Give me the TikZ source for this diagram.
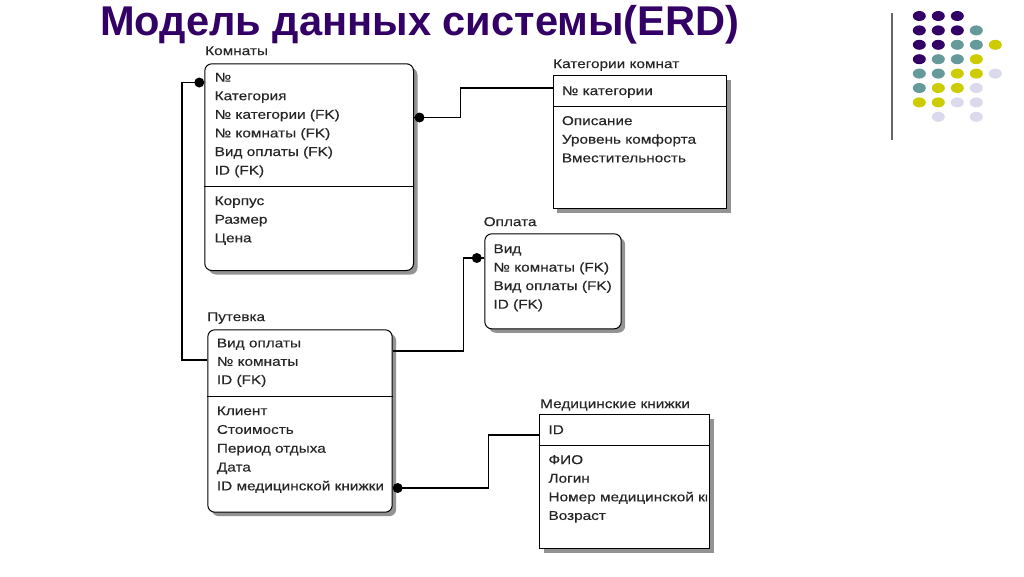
\documentclass[tikz,border=0pt]{standalone}
\usepackage{fontspec}
\setmainfont{Liberation Sans}
\newfontfamily\erdfont[FakeStretch=1.2,FakeBold=0.3]{Liberation Sans}
\newfontfamily\ttlfont{Liberation Sans}
\usetikzlibrary{calc,shadows}
\definecolor{titlecol}{RGB}{51,0,102}
\definecolor{dotP}{RGB}{51,0,102}
\definecolor{dotT}{RGB}{102,153,153}
\definecolor{dotY}{RGB}{204,204,0}
\definecolor{dotL}{RGB}{218,218,236}
\definecolor{dotN}{RGB}{255,255,255}
\newcommand\erdrows[5]{\foreach \t [count=\i] in {#5} {\node[row] (#1\i) at (#2,{#3+(\i-1)*#4}) {\t};}}
\begin{document}
\begin{tikzpicture}[x=1pt,y=-1pt,
  row/.style={anchor=west, inner sep=0pt, text=black!85, font=\erdfont\fontsize{12.8}{14}\selectfont, text height=8.6pt, text depth=2.4pt},
  etitle/.style={row},
  ebox/.style={draw=black, line width=1pt, fill=white, anchor=north west, inner sep=0pt,
    drop shadow={shadow xshift=4pt, shadow yshift=-4pt, fill=gray!85, opacity=1}},
  rbox/.style={ebox, rounded corners=7pt},
  divider/.style={line width=1pt},
  conn/.style={line width=1.1pt},
  pin/.style={circle, fill=black, inner sep=0pt, minimum size=10pt}]
\useasboundingbox (0,0) rectangle (1024,576);

% title
\node[anchor=base west, inner sep=0pt, text=titlecol, font=\ttlfont\bfseries\fontsize{41.6}{45}\selectfont] (title) at (100,35) {Модель данных системы(ERD)};

% decoration
\draw[gray!80!black, line width=1.5pt] (892,13) -- (892,140);
\foreach \rowlist [count=\r] in {{P,P,P},{P,P,P,T},{P,P,T,T,Y},{P,T,T,Y},{T,T,Y,Y,L},{T,Y,Y,L},{Y,Y,L,L},{N,L,N,L}} {
  \foreach \c [count=\k] in \rowlist {
    \fill[dot\c] ({919.3+(\k-1)*19},{16+(\r-1)*14.4}) ellipse [x radius=6.5, y radius=5];
  }
}

% Комнаты
\node[etitle] (komT) at (205,52) {Комнаты};
\node[rbox, minimum width=208.7pt, minimum height=206.7pt] (komn) at (204.3,63.3) {};
\coordinate (kd) at (0,186);
\draw[divider] (komn.west |- kd) -- (komn.east |- kd);
\erdrows{komA}{214.5}{78.5}{18.6}{№,Категория,№ категории (FK),№ комнаты (FK),Вид оплаты (FK),ID (FK)}
\erdrows{komB}{214.5}{202}{18.6}{Корпус,Размер,Цена}

% Категории комнат
\node[etitle] (katT) at (553,65) {Категории комнат};
\node[ebox, minimum width=173.3pt, minimum height=133pt] (kat) at (552.7,75) {};
\coordinate (cd) at (0,106);
\draw[divider] (kat.west |- cd) -- (kat.east |- cd);
\erdrows{katA}{561.7}{92}{18.6}{№ категории}
\erdrows{katB}{561.7}{122}{18.6}{Описание,Уровень комфорта,Вместительность}

% Оплата
\node[etitle] (oplT) at (483.5,223) {Оплата};
\node[rbox, minimum width=136.4pt, minimum height=95pt] (opl) at (484.3,233.3) {};
\erdrows{oplA}{493.3}{250}{18.5}{Вид,№ комнаты (FK),Вид оплаты (FK),ID (FK)}

% Путевка
\node[etitle] (putT) at (207,318) {Путевка};
\node[rbox, minimum width=184.4pt, minimum height=182.4pt] (put) at (207.3,329.3) {};
\coordinate (pd) at (0,396);
\draw[divider] (put.west |- pd) -- (put.east |- pd);
\begin{scope}
\clip (208,330) rectangle (388,511);
\erdrows{putA}{216.7}{344.3}{18.4}{Вид оплаты,№ комнаты,ID (FK)}
\erdrows{putB}{216.7}{412}{18.8}{Клиент,Стоимость,Период отдыха,Дата,ID медицинской книжки}
\end{scope}

% Медицинские книжки
\node[etitle] (medT) at (540,405) {Медицинские книжки};
\node[ebox, minimum width=170pt, minimum height=134pt] (med) at (539.3,414.3) {};
\coordinate (md) at (0,445);
\draw[divider] (med.west |- md) -- (med.east |- md);
\erdrows{medA}{548.3}{431}{18.6}{ID}
\begin{scope}
\clip (540,446) rectangle (707,548);
\erdrows{medB}{548.3}{461}{18.6}{ФИО,Логин,Номер медицинской книжки,Возраст}
\end{scope}

% connectors
\coordinate (a1) at (182,360);
\coordinate (a2) at (182,82.5);
\draw[conn] (put.west |- a1) -- (a1) -- (a2) -- (komn.west |- a2);
\node[pin] (pinA) at ($(komn.west |- a2)+(-5,0)$) {};

\coordinate (b1) at (460.5,117.5);
\coordinate (b2) at (460.5,88);
\draw[conn] (komn.east |- b1) -- (b1) -- (b2) -- (kat.west |- b2);
\node[pin] (pinB) at ($(komn.east |- b1)+(5.5,0)$) {};

\coordinate (c1) at (463.3,351);
\coordinate (c2) at (463.3,258);
\draw[conn] (put.east |- c1) -- (c1) -- (c2) -- (opl.west |- c2);
\node[pin] (pinC) at ($(opl.west |- c2)+(-7.5,0)$) {};

\coordinate (e1) at (488.3,488);
\coordinate (e2) at (488.3,435);
\draw[conn] (put.east |- e1) -- (e1) -- (e2) -- (med.west |- e2);
\node[pin] (pinE) at ($(put.east |- e1)+(5,0)$) {};
\end{tikzpicture}
\end{document}
